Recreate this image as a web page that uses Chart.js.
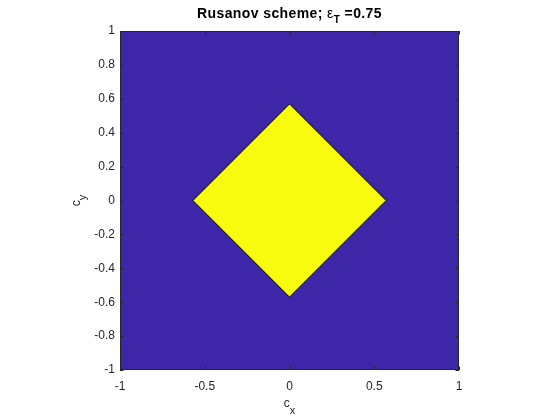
<!DOCTYPE html>
<html>
<head>
<meta charset="utf-8">
<script src="https://cdn.jsdelivr.net/npm/chart.js@4/dist/chart.umd.min.js"></script>
<style>
  html, body { margin: 0; padding: 0; background: #fff; }
  canvas { display: block; }
</style>
</head>
<body>
<canvas id="myChart" width="560" height="420"></canvas>
<script>
// domain (blue) and the stable region (yellow diamond)
const squareX = [-1, 1, 1, -1, -1];
const squareY = [-1, -1, 1, 1, -1];
const diamondX = [0.57, 0, -0.57, 0, 0.57];
const diamondY = [0, 0.57, 0, -0.57, 0];

const xTicks = [-1, -0.5, 0, 0.5, 1];
const yTicks = [-1, -0.8, -0.6, -0.4, -0.2, 0, 0.2, 0.4, 0.6, 0.8, 1];

const titleMain = 'Rusanov scheme; ';
const titleEps = '\u03B5';
const titleSub = 'T';
const titleTail = ' =0.75';
const xLabel = ['c', 'x'];
const yLabel = ['c', 'y'];

const toPoints = (xs, ys) => xs.map((x, i) => ({ x: x, y: ys[i] }));

const textCol = '#262626';
const fontFam = '"Liberation Sans", Arial, Helvetica, sans-serif';

// MATLAB-like extras: inward ticks, box, title and labels with subscripts
const matlabBits = {
  id: 'matlabBits',
  afterDatasetsDraw(chart) {
    const c = chart.ctx;
    const a = chart.chartArea;
    const xs = chart.scales.x, ys = chart.scales.y;
    c.save();
    c.strokeStyle = textCol;
    c.lineWidth = 1;
    c.beginPath();
    xTicks.forEach(v => {
      const px = Math.round(xs.getPixelForValue(v)) + 0.5;
      c.moveTo(px, a.bottom); c.lineTo(px, a.bottom - 3.5);
      c.moveTo(px, a.top); c.lineTo(px, a.top + 3.5);
    });
    yTicks.forEach(v => {
      const py = Math.round(ys.getPixelForValue(v)) + 0.5;
      c.moveTo(a.left, py); c.lineTo(a.left + 3.5, py);
      c.moveTo(a.right, py); c.lineTo(a.right - 3.5, py);
    });
    c.stroke();
    c.strokeRect(a.left + 0.5, a.top + 0.5, a.right - a.left - 1, a.bottom - a.top - 1);

    // title
    c.fillStyle = '#000';
    c.textBaseline = 'alphabetic';
    c.textAlign = 'left';
    c.letterSpacing = '0.4px';
    const bf = 'bold 14px ' + fontFam;
    const ef = '14px ' + fontFam;
    const sf = 'bold 10px ' + fontFam;
    c.font = bf;
    const w1 = c.measureText(titleMain).width;
    const w4 = c.measureText(titleTail).width;
    c.font = ef;
    const w2 = c.measureText(titleEps).width;
    c.font = sf;
    const w3 = c.measureText(titleSub).width;
    let tx = (a.left + a.right) / 2 - (w1 + w2 + w3 + w4) / 2;
    const ty = 18;
    c.font = bf; c.fillText(titleMain, tx, ty); tx += w1;
    c.font = ef; c.fillText(titleEps, tx, ty); tx += w2;
    c.font = sf; c.fillText(titleSub, tx, ty + 5); tx += w3;
    c.font = bf; c.fillText(titleTail, tx, ty);
    c.letterSpacing = '0px';

    // x label
    c.fillStyle = textCol;
    c.font = '12px ' + fontFam;
    const cw = c.measureText(xLabel[0]).width;
    c.font = '11px ' + fontFam;
    const sw = c.measureText(xLabel[1]).width;
    let lx = (a.left + a.right) / 2 - (cw + sw) / 2;
    c.font = '12px ' + fontFam; c.fillText(xLabel[0], lx, 407);
    c.font = '11px ' + fontFam; c.fillText(xLabel[1], lx + cw, 414);

    // y label (rotated)
    c.translate(80, (a.top + a.bottom) / 2);
    c.rotate(-Math.PI / 2);
    c.font = '12px ' + fontFam;
    const cw2 = c.measureText(yLabel[0]).width;
    c.font = '11px ' + fontFam;
    const sw2 = c.measureText(yLabel[1]).width;
    const ly = -(cw2 + sw2) / 2;
    c.font = '12px ' + fontFam; c.fillText(yLabel[0], ly, 0);
    c.font = '11px ' + fontFam; c.fillText(yLabel[1], ly + cw2, 6);
    c.restore();
  }
};

const ctx = document.getElementById('myChart');

new Chart(ctx, {
  type: 'scatter',
  data: {
    datasets: [{
      label: 'domain',
      data: toPoints(squareX, squareY),
      showLine: true,
      fill: 'shape',
      backgroundColor: 'rgb(62, 38, 168)',
      borderColor: 'rgb(62, 38, 168)',
      borderWidth: 0,
      pointRadius: 0,
      order: 2
    }, {
      label: 'stable',
      data: toPoints(diamondX, diamondY),
      showLine: true,
      fill: 'shape',
      backgroundColor: 'rgb(249, 251, 14)',
      borderColor: '#000',
      borderWidth: 1,
      pointRadius: 0,
      order: 1
    }]
  },
  options: {
    responsive: false,
    animation: false,
    layout: { padding: { top: 31, right: 101, left: 0, bottom: 0 } },
    plugins: {
      legend: { display: false },
      tooltip: { enabled: false },
      title: { display: false }
    },
    scales: {
      x: {
        type: 'linear',
        min: -1, max: 1,
        afterBuildTicks: s => { s.ticks = xTicks.map(v => ({ value: v })); },
        afterFit: s => { s.height = 50; },
        grid: { display: false, drawTicks: false },
        border: { display: false },
        ticks: {
          padding: 9,
          color: textCol,
          font: { family: fontFam, size: 12 },
          maxRotation: 0,
          callback: v => String(Number(v.toFixed(1)))
        }
      },
      y: {
        type: 'linear',
        min: -1, max: 1,
        afterBuildTicks: s => { s.ticks = yTicks.map(v => ({ value: v })); },
        afterFit: s => { s.width = 120; },
        grid: { display: false, drawTicks: false },
        border: { display: false },
        ticks: {
          padding: 5,
          color: textCol,
          font: { family: fontFam, size: 12 },
          callback: v => String(Number(v.toFixed(1)))
        }
      }
    }
  },
  plugins: [matlabBits]
});
</script>
</body>
</html>
